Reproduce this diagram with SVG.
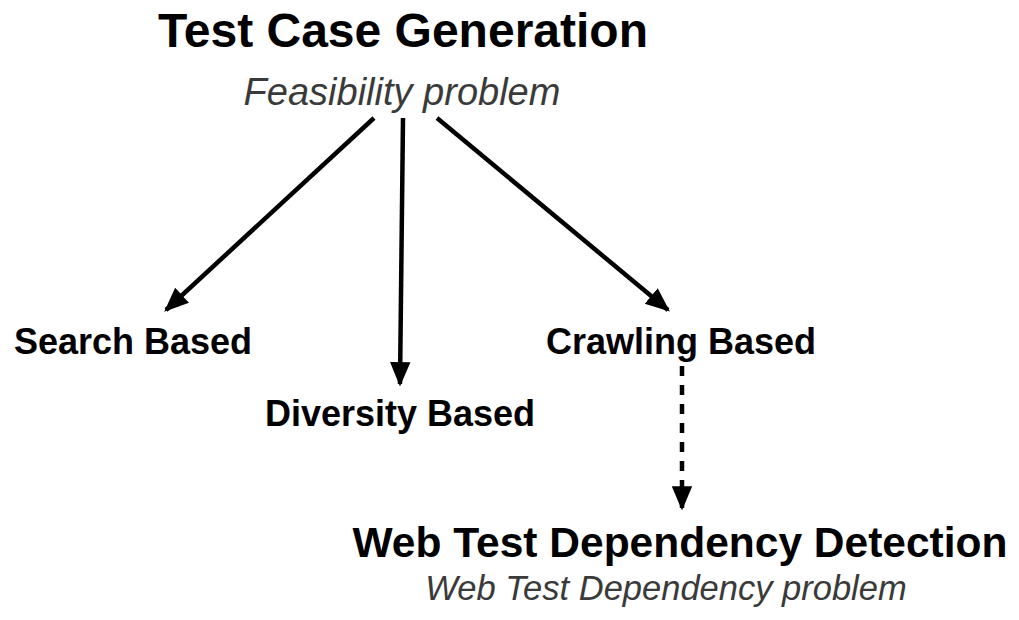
<svg xmlns="http://www.w3.org/2000/svg" width="1019" height="620" viewBox="0 0 1019 620">
<defs>
<marker id="ah" viewBox="0 0 10 10" refX="9" refY="5" markerWidth="5.4" markerHeight="5.4" markerUnits="strokeWidth" orient="auto">
<path d="M0,0.8 L10,5 L0,9.2 z" fill="#000"/>
</marker>
<style>
.b{font-family:"Liberation Sans",Arial,sans-serif;font-weight:bold;fill:#000;text-anchor:middle}
.i{font-family:"Liberation Sans",Arial,sans-serif;font-style:italic;fill:#3a3a3a;text-anchor:middle}
.c{stroke:#000;stroke-width:4.5;fill:none}
</style>
</defs>
<rect width="1019" height="620" fill="#fff"/>
<g id="connectors">
<line class="c" x1="374" y1="118" x2="166" y2="310" marker-end="url(#ah)"/>
<line class="c" x1="403" y1="118" x2="400" y2="384" marker-end="url(#ah)"/>
<line class="c" x1="437" y1="118" x2="668" y2="310" marker-end="url(#ah)"/>
<line class="c" x1="682" y1="366" x2="682" y2="508" stroke-width="5" stroke-dasharray="10,9" marker-end="url(#ah)"/>
</g>
<g id="test-case-generation">
<text class="b" x="403" y="47" font-size="48">Test Case Generation</text>
<text class="i" x="402" y="105" font-size="38">Feasibility problem</text>
</g>
<g id="search-based">
<text class="b" x="133" y="354" font-size="36">Search Based</text>
</g>
<g id="diversity-based">
<text class="b" x="400" y="426" font-size="36">Diversity Based</text>
</g>
<g id="crawling-based">
<text class="b" x="681" y="354" font-size="36">Crawling Based</text>
</g>
<g id="web-test-dependency-detection">
<text class="b" x="680" y="557" font-size="42.5">Web Test Dependency Detection</text>
<text class="i" x="666" y="600" font-size="34.5">Web Test Dependency problem</text>
</g>
</svg>
